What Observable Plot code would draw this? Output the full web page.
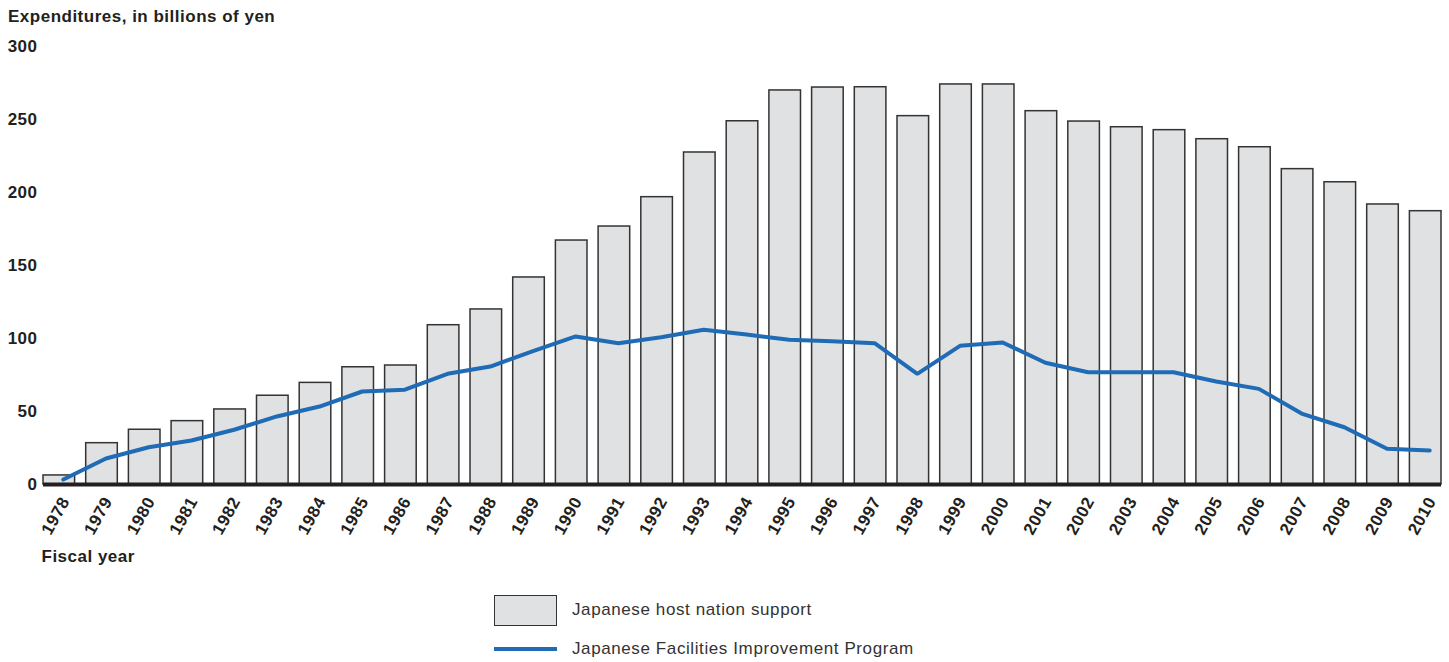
<!DOCTYPE html>
<html>
<head>
<meta charset="utf-8">
<script src="https://cdn.jsdelivr.net/npm/d3@7"></script>
<script src="https://cdn.jsdelivr.net/npm/@observablehq/plot@0.6"></script>
<style>
  body { margin: 0; background: #fff; font-family: "Liberation Sans", Arial, Helvetica, sans-serif; color: #231f20; width: 1449px; height: 662px; position: relative; overflow: hidden; }
  #title { position: absolute; left: 8px; top: 7px; font-weight: bold; font-size: 17px; letter-spacing: 0.5px; line-height: 20px; white-space: nowrap; }
  #chart { position: absolute; left: 0; top: 28px; }
  .lg-swatch { position: absolute; box-sizing: border-box; }
  .lg-text { position: absolute; left: 572px; font-size: 17px; letter-spacing: 0.6px; line-height: 20px; color: #333; white-space: nowrap; }
</style>
</head>
<body>
<div id="title">Expenditures, in billions of yen</div>
<div id="chart"></div>
<div class="lg-swatch" style="left:494px;top:595px;width:63px;height:31px;background:#e0e1e3;border:1.5px solid #333;"></div>
<div class="lg-text" style="top:600px;">Japanese host nation support</div>
<div class="lg-swatch" style="left:494px;top:647px;width:63px;height:4px;background:#1f6bb5;"></div>
<div class="lg-text" style="top:639px;">Japanese Facilities Improvement Program</div>
<script>
const years = ["1978","1979","1980","1981","1982","1983","1984","1985","1986","1987","1988",
  "1989","1990","1991","1992","1993","1994","1995","1996","1997","1998","1999",
  "2000","2001","2002","2003","2004","2005","2006","2007","2008","2009","2010"];
const hostNationSupport = [6.2, 28.3, 37.5, 43.4, 51.4, 60.8, 69.6, 80.3, 81.5, 109.1, 119.9,
  141.8, 167.1, 176.7, 196.8, 227.4, 248.8, 269.9, 271.9, 272.1, 252.3, 274.0,
  274.0, 255.7, 248.6, 244.7, 242.7, 236.5, 231.0, 216.0, 207.0, 191.8, 187.2];
const facilitiesImprovement = [3.4, 17.8, 25.5, 30.1, 37.5, 46.6, 53.4, 63.7, 64.9, 75.8, 80.8,
  91.3, 101.4, 96.8, 100.9, 106.0, 102.7, 99.1, 98.2, 96.8, 75.8, 95.0,
  97.3, 83.4, 76.9, 76.9, 76.9, 70.5, 65.5, 48.6, 39.2, 24.5, 23.3];
const yTicks = [0, 50, 100, 150, 200, 250, 300];

const data = years.map((year, i) => ({year, host: hostNationSupport[i], fip: facilitiesImprovement[i]}));

const chart = Plot.plot({
  width: 1449,
  height: 542,
  marginTop: 18,
  marginBottom: 86,
  marginLeft: 43,
  marginRight: 8,
  style: {fontFamily: "'Liberation Sans', Arial, sans-serif", fontSize: "17px", letterSpacing: "0.5px", color: "#231f20", background: "#fff"},
  x: {type: "band", domain: years, paddingInner: 0.26, paddingOuter: 0, align: 0.5, round: false},
  y: {domain: [0, 300]},
  marks: [
    Plot.barY(data, {x: "year", y: "host", fill: "#e0e1e3", stroke: "#333", strokeWidth: 1.5}),
    Plot.lineY(data, {x: "year", y: "fip", stroke: "#1f6bb5", strokeWidth: 4, dx: 4, strokeLinejoin: "miter"}),
    Plot.ruleY([0], {stroke: "#231f20", strokeWidth: 4}),
    Plot.axisY({ticks: yTicks, tickSize: 0, tickPadding: 6, tickFormat: d => String(d), fontSize: 17, fontWeight: "bold", label: null, fill: "#231f20"}),
    Plot.axisX({tickSize: 0, tickPadding: 14, tickRotate: -61, dx: 6, fontSize: 17, fontWeight: "bold", label: null, fill: "#231f20"}),
    Plot.text(["Fiscal year"], {text: d => d, frameAnchor: "bottom-left", dx: -2, dy: 72, textAnchor: "start", lineAnchor: "middle", fontSize: 17, fontWeight: "bold", fill: "#231f20"})
  ]
});
document.getElementById("chart").appendChild(chart);
</script>
</body>
</html>
